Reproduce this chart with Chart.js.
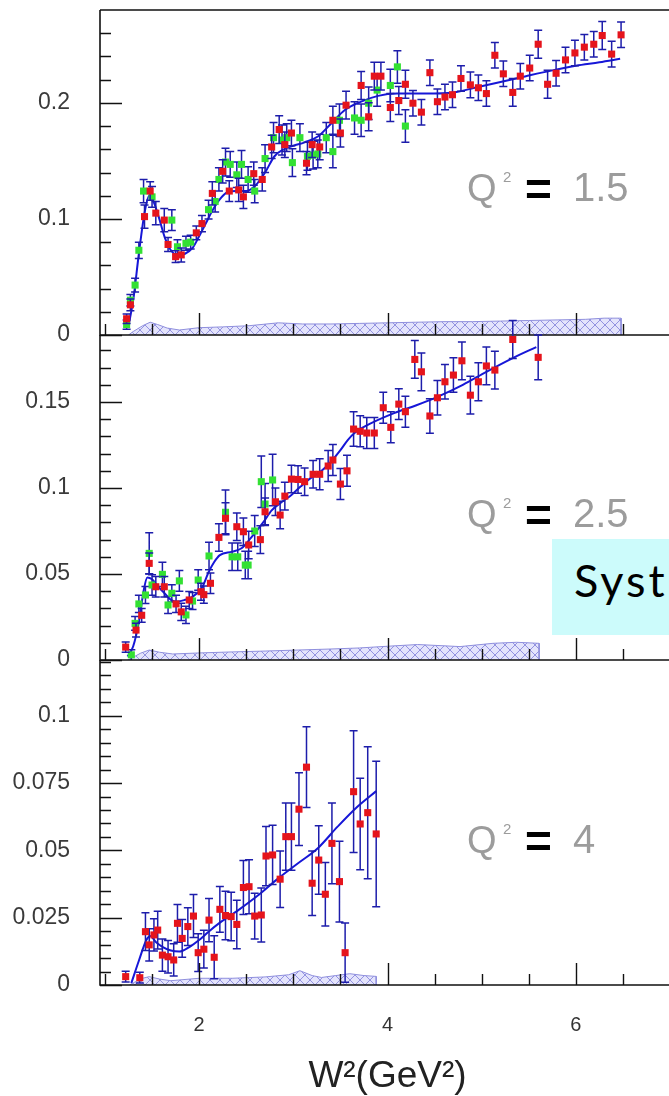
<!DOCTYPE html>
<html><head><meta charset="utf-8">
<script src="https://cdn.jsdelivr.net/npm/chart.js@4.4.1/dist/chart.umd.min.js"></script>
<style>
html,body{margin:0;padding:0;width:669px;height:1096px;overflow:hidden;background:#fff;}
canvas{position:absolute;left:0;top:0;}
#syst{position:absolute;left:552px;top:539px;width:140px;height:96px;background:#ccfbfb;font-family:Lato,"Open Sans",sans-serif;font-size:45px;letter-spacing:3px;line-height:82px;padding-left:22px;box-sizing:border-box;color:#000;z-index:5;white-space:nowrap;}
</style></head><body>
<canvas id="c1" width="680" height="1096"></canvas>
<canvas id="c2" width="680" height="1096"></canvas>
<canvas id="c3" width="680" height="1096"></canvas>
<div id="syst">Syst</div>
<script>
// ---------- axis / tick values ----------
const X_MIN = 0.9474, X_MAX = 7.0526;
const xLabelTicks = [2, 4, 6];
const xMinorTicks = [1, 1.5, 2.5, 3, 3.5, 4.5, 5, 5.5, 6.5];
const y1Ticks = [0, 0.1, 0.2];
const y2Ticks = [0, 0.05, 0.1, 0.15];
const y3Ticks = [0, 0.025, 0.05, 0.075, 0.1];
const q2Labels = ['1.5', '2.5', '4'];

// ---------- panel 1 (Q2 = 1.5) ----------
const p1RedX = [1.23,1.27,1.42,1.48,1.54,1.63,1.67,1.75,1.81,1.97,2.03,2.14,2.25,2.32,2.42,2.47,2.58,2.67,2.77,2.85,2.91,2.98,3.14,3.20,3.28,3.42,3.50,3.56,3.72,3.80,3.86,3.93,4.03,4.12,4.19,4.27,4.36,4.45,4.53,4.61,4.69,4.78,4.88,4.965,5.05,5.14,5.23,5.33,5.41,5.51,5.60,5.70,5.79,5.89,5.99,6.09,6.19,6.28,6.38,6.48];
const p1RedY = [0.014,0.026,0.102,0.124,0.105,0.099,0.078,0.0675,0.069,0.088,0.096,0.122,0.141,0.124,0.125,0.119,0.139,0.134,0.162,0.177,0.164,0.174,0.148,0.164,0.162,0.185,0.174,0.198,0.215,0.188,0.223,0.223,0.196,0.202,0.216,0.1997,0.192,0.226,0.201,0.205,0.207,0.221,0.2155,0.213,0.208,0.241,0.225,0.209,0.223,0.230,0.2505,0.216,0.2255,0.237,0.243,0.248,0.2505,0.258,0.242,0.2586];
const p1RedErr = [0.004,0.005,0.01,0.008,0.01,0.01,0.006,0.005,0.006,0.006,0.007,0.01,0.01,0.009,0.01,0.01,0.01,0.01,0.01,0.012,0.011,0.011,0.01,0.011,0.011,0.012,0.012,0.012,0.012,0.012,0.012,0.012,0.012,0.012,0.012,0.011,0.011,0.011,0.011,0.011,0.011,0.011,0.011,0.011,0.011,0.011,0.011,0.012,0.011,0.011,0.012,0.012,0.011,0.011,0.011,0.011,0.011,0.012,0.011,0.011];
const p1GreenX = [1.23,1.27,1.32,1.36,1.41,1.50,1.71,1.77,1.86,1.91,2.10,2.17,2.21,2.28,2.33,2.40,2.45,2.52,2.59,2.70,2.79,2.88,2.93,2.99,3.07,3.15,3.21,3.26,3.35,3.42,3.49,3.65,3.72,3.80,3.89,4.03,4.105,4.19];
const p1GreenY = [0.009,0.030,0.043,0.073,0.124,0.119,0.099,0.076,0.079,0.080,0.108,0.115,0.134,0.149,0.147,0.138,0.147,0.134,0.124,0.152,0.170,0.168,0.170,0.1485,0.170,0.154,0.155,0.156,0.170,0.158,0.185,0.187,0.185,0.1997,0.211,0.215,0.231,0.180];
const p1GreenErr = [0.004,0.005,0.006,0.007,0.01,0.009,0.009,0.006,0.006,0.006,0.008,0.009,0.01,0.012,0.011,0.011,0.012,0.011,0.01,0.012,0.013,0.013,0.012,0.012,0.012,0.012,0.012,0.012,0.013,0.014,0.014,0.014,0.014,0.014,0.014,0.014,0.014,0.014];
const p1FitX = [1.25,1.3,1.36,1.42,1.47,1.52,1.57,1.64,1.7,1.77,1.85,1.93,2.0,2.07,2.14,2.21,2.3,2.4,2.5,2.6,2.7,2.8,2.9,3.0,3.12,3.26,3.4,3.55,3.72,3.9,4.1,4.4,4.7,4.95,5.2,5.47,5.75,6.0,6.25,6.47];
const p1FitY = [0.008,0.03,0.07,0.105,0.12,0.114,0.102,0.083,0.073,0.069,0.070,0.075,0.085,0.096,0.107,0.116,0.123,0.124,0.124,0.129,0.14,0.154,0.16,0.163,0.166,0.171,0.182,0.194,0.201,0.206,0.208,0.208,0.209,0.2135,0.218,0.223,0.228,0.232,0.235,0.238];
const p1BandX = [1.25,1.3,1.4,1.48,1.56,1.66,1.79,2.0,2.25,2.53,2.84,3.1,3.4,3.7,4.0,4.3,4.6,4.9,5.2,5.5,5.8,6.1,6.3,6.48,6.48];
const p1BandY = [0,0.003,0.008,0.011,0.009,0.006,0.0043,0.0063,0.007,0.008,0.0105,0.0095,0.0095,0.0100,0.0105,0.011,0.0115,0.0115,0.012,0.0125,0.013,0.0135,0.0145,0.0145,0];

// ---------- panel 2 (Q2 = 2.5) ----------
const p2RedX = [1.22,1.33,1.39,1.47,1.54,1.63,1.755,1.81,1.895,2.02,2.05,2.12,2.21,2.28,2.40,2.47,2.526,2.65,2.70,2.81,2.86,2.91,2.98,3.05,3.12,3.21,3.28,3.37,3.42,3.50,3.57,3.64,3.71,3.78,3.86,3.955,4.035,4.12,4.19,4.29,4.36,4.45,4.53,4.61,4.70,4.79,4.88,4.965,5.05,5.14,5.33,5.60];
const p2RedY = [0.0075,0.0174,0.026,0.0562,0.0426,0.0426,0.0326,0.028,0.0349,0.0397,0.038,0.0446,0.0713,0.0824,0.0775,0.0746,0.0669,0.070,0.0862,0.092,0.0843,0.0953,0.1052,0.105,0.1037,0.108,0.108,0.1128,0.1163,0.1023,0.110,0.1343,0.133,0.132,0.132,0.1467,0.1353,0.1488,0.1444,0.1748,0.1676,0.1419,0.1525,0.1618,0.1657,0.174,0.154,0.1618,0.171,0.1686,0.1864,0.176];
const p2RedErr = [0.003,0.004,0.004,0.006,0.006,0.006,0.005,0.005,0.005,0.005,0.005,0.006,0.008,0.009,0.008,0.008,0.008,0.008,0.008,0.008,0.008,0.008,0.008,0.008,0.008,0.008,0.009,0.009,0.009,0.009,0.009,0.010,0.009,0.009,0.009,0.009,0.009,0.009,0.009,0.011,0.011,0.010,0.010,0.010,0.010,0.011,0.011,0.011,0.011,0.011,0.011,0.013];
const p2GreenX = [1.28,1.32,1.36,1.43,1.47,1.50,1.61,1.67,1.71,1.79,1.86,1.93,1.99,2.105,2.28,2.35,2.41,2.49,2.52,2.59,2.66,2.70,2.78];
const p2GreenY = [0.003,0.0213,0.0326,0.0378,0.062,0.0436,0.0498,0.032,0.0388,0.046,0.0262,0.0343,0.0465,0.0605,0.0859,0.060,0.060,0.0552,0.0552,0.075,0.1037,0.0907,0.1047];
const p2GreenErr = [0.003,0.004,0.005,0.005,0.012,0.006,0.007,0.005,0.005,0.006,0.005,0.005,0.006,0.008,0.013,0.008,0.008,0.008,0.008,0.009,0.015,0.012,0.015];
const p2FitX = [1.24,1.3,1.36,1.41,1.45,1.5,1.56,1.63,1.7,1.77,1.85,1.93,2.03,2.1,2.16,2.22,2.35,2.45,2.55,2.68,2.77,2.88,2.98,3.08,3.18,3.3,3.4,3.5,3.58,3.65,3.8,4.07,4.3,4.53,4.8,5.05,5.33,5.58];
const p2FitY = [0.002,0.008,0.022,0.04,0.048,0.047,0.043,0.039,0.035,0.034,0.035,0.0368,0.042,0.051,0.057,0.061,0.063,0.065,0.071,0.08,0.087,0.092,0.096,0.101,0.1056,0.11,0.1153,0.122,0.128,0.132,0.137,0.1436,0.148,0.153,0.16,0.1676,0.1756,0.182];
const p2BandX = [1.24,1.28,1.38,1.47,1.58,1.72,2.0,2.35,2.7,3.05,3.4,3.7,4.0,4.32,4.77,5.12,5.37,5.61,5.61];
const p2BandY = [0,0.001,0.004,0.0058,0.0045,0.0035,0.0041,0.0047,0.0052,0.0058,0.0064,0.007,0.008,0.009,0.0078,0.0097,0.0103,0.0097,0];

// ---------- panel 3 (Q2 = 4) ----------
const p3RedX = [1.22,1.37,1.43,1.47,1.52,1.56,1.61,1.67,1.73,1.77,1.82,1.88,1.94,1.99,2.05,2.105,2.16,2.22,2.28,2.34,2.40,2.47,2.53,2.59,2.66,2.71,2.78,2.86,2.92,2.98,3.06,3.14,3.20,3.27,3.34,3.41,3.49,3.55,3.64,3.71,3.79,3.88];
const p3RedY = [0.0031,0.0027,0.0198,0.0149,0.0186,0.0204,0.0111,0.0105,0.0093,0.0229,0.0173,0.0217,0.0256,0.012,0.0133,0.0241,0.0103,0.0281,0.0258,0.0254,0.0225,0.0362,0.0365,0.0256,0.026,0.0479,0.0483,0.0393,0.0551,0.0551,0.0653,0.0809,0.0378,0.0464,0.0337,0.0526,0.0384,0.012,0.0718,0.0598,0.064,0.0561];
const p3RedErr = [0.002,0.002,0.007,0.006,0.006,0.007,0.006,0.006,0.006,0.007,0.007,0.007,0.008,0.007,0.007,0.008,0.008,0.0085,0.009,0.009,0.009,0.01,0.01,0.0085,0.01,0.011,0.011,0.0105,0.0125,0.0125,0.0135,0.015,0.012,0.0127,0.0118,0.015,0.015,0.011,0.0226,0.017,0.0245,0.027];
const p3FitX = [1.28,1.36,1.44,1.48,1.54,1.61,1.7,1.79,1.9,2.0,2.1,2.21,2.42,2.63,2.84,3.05,3.26,3.47,3.68,3.88];
const p3FitY = [0.0007,0.009,0.0167,0.0182,0.016,0.0142,0.0128,0.0124,0.0142,0.0167,0.0198,0.0229,0.0279,0.0334,0.0396,0.0452,0.0508,0.0588,0.0662,0.072];
const p3BandX = [1.26,1.3,1.4,1.47,1.58,1.7,2.0,2.35,2.7,2.95,3.07,3.2,3.3,3.45,3.6,3.75,3.88,3.88];
const p3BandY = [0,0.0008,0.0025,0.0031,0.0022,0.0016,0.0025,0.0025,0.003,0.0038,0.0053,0.0035,0.0028,0.0035,0.0042,0.0035,0.0032,0];

// ---------- helpers ----------
const zip = (xs, ys) => xs.map((x, i) => ({x: x, y: ys[i]}));
Chart.defaults.font.family = '"Liberation Sans", Arial, Helvetica, sans-serif';

function hatchPattern() {
  const c = document.createElement('canvas'); c.width = 10; c.height = 10;
  const g = c.getContext('2d');
  g.fillStyle = 'rgba(205,205,250,0.55)'; g.fillRect(0, 0, 10, 10);
  g.strokeStyle = 'rgba(120,120,215,0.75)'; g.lineWidth = 1;
  g.beginPath(); g.moveTo(0, 0); g.lineTo(10, 10); g.moveTo(10, 0); g.lineTo(0, 10); g.stroke();
  return g.createPattern(c, 'repeat');
}

const errPlugin = {
  id: 'errbars',
  beforeDatasetDraw(chart, args) {
    const ds = chart.data.datasets[args.index];
    if (!ds.errs) return;
    const {ctx, scales: {x, y}} = chart;
    ctx.save();
    ctx.strokeStyle = '#1d1dab'; ctx.lineWidth = 1.5;
    ctx.beginPath();
    ds.data.forEach((p, i) => {
      const e = ds.errs[i];
      const px = x.getPixelForValue(p.x);
      const loV = Math.max(p.y - e, y.min);
      const yLo = y.getPixelForValue(loV), yHi = y.getPixelForValue(p.y + e);
      ctx.moveTo(px, yLo); ctx.lineTo(px, yHi);
      ctx.moveTo(px - 4, yHi); ctx.lineTo(px + 4, yHi);
      if (p.y - e > y.min) { ctx.moveTo(px - 4, yLo); ctx.lineTo(px + 4, yLo); }
    });
    ctx.stroke();
    ctx.restore();
  }
};

const framePlugin = {
  id: 'frame',
  afterDatasetsDraw(chart, args, o) {
    const {ctx, chartArea: a, scales: {x, y}} = chart;
    ctx.save();
    ctx.strokeStyle = '#111'; ctx.lineWidth = 1.6;
    ctx.beginPath();
    ctx.moveTo(a.left, a.top); ctx.lineTo(a.left, a.bottom); ctx.lineTo(a.right, a.bottom);
    if (o.topBorder) { ctx.moveTo(a.left, a.top); ctx.lineTo(a.right, a.top); }
    ctx.stroke();
    ctx.lineWidth = 1.4;
    ctx.beginPath();
    o.yMajor.forEach(v => { const py = Math.round(y.getPixelForValue(v)) + 0.5; ctx.moveTo(a.left, py); ctx.lineTo(a.left + 22, py); });
    for (let k = 1; k * o.yMinorStep < y.max - 1e-9; k++) {
      const v = k * o.yMinorStep;
      if (o.yMajor.some(m => Math.abs(m - v) < 1e-9)) continue;
      const py = Math.round(y.getPixelForValue(v)) + 0.5; ctx.moveTo(a.left, py); ctx.lineTo(a.left + 11, py);
    }
    xLabelTicks.forEach(v => { const px = Math.round(x.getPixelForValue(v)) + 0.5; ctx.moveTo(px, a.bottom); ctx.lineTo(px, a.bottom - 22); });
    xMinorTicks.forEach(v => { const px = Math.round(x.getPixelForValue(v)) + 0.5; ctx.moveTo(px, a.bottom); ctx.lineTo(px, a.bottom - 11); });
    ctx.stroke();
    ctx.restore();
  }
};

const qPlugin = {
  id: 'qlabel',
  afterDraw(chart, args, o) {
    const ctx = chart.ctx;
    ctx.save();
    ctx.textAlign = 'left'; ctx.textBaseline = 'alphabetic';
    ctx.fillStyle = '#9c9c9c';
    ctx.font = '38px "Liberation Sans", Arial, sans-serif';
    ctx.fillText('Q', o.x, o.y);
    ctx.font = '15px "Liberation Sans", Arial, sans-serif';
    ctx.fillText('2', o.x + 36, o.y - 19);
    ctx.fillStyle = '#000';
    ctx.font = 'bold 46px "Liberation Sans", Arial, sans-serif';
    ctx.fillText('=', o.x + 58, o.y + 4);
    ctx.fillStyle = '#9c9c9c';
    ctx.font = '40px "Liberation Sans", Arial, sans-serif';
    ctx.fillText(o.text, o.x + 106, o.y);
    ctx.restore();
  }
};

function makePanel(id, p) {
  const datasets = [];
  datasets.push({data: zip(p.redX, p.redY), errs: p.redErr, pointStyle: 'rect', pointRadius: 5, pointBackgroundColor: '#e5141c', pointBorderWidth: 0, showLine: false, order: 0});
  if (p.greenX) datasets.push({data: zip(p.greenX, p.greenY), errs: p.greenErr, pointStyle: 'rect', pointRadius: 5, pointBackgroundColor: '#33e033', pointBorderWidth: 0, showLine: false, order: 1});
  datasets.push({data: zip(p.fitX, p.fitY), showLine: true, borderColor: '#1616d8', borderWidth: 2, pointRadius: 0, cubicInterpolationMode: 'monotone', fill: false, order: 3});
  datasets.push({data: zip(p.bandX, p.bandY), showLine: true, fill: 'origin', backgroundColor: hatchPattern(), borderColor: '#8f8fdd', borderWidth: 1, pointRadius: 0, tension: 0, order: 4});

  const xScale = {
    type: 'linear', min: X_MIN, max: X_MAX, display: !!p.showX,
    grid: {display: false, drawTicks: false}, border: {display: false},
    ticks: {padding: 28, font: {size: 20}, color: '#333', autoSkip: false, maxRotation: 0, callback: v => String(v)},
    title: {display: !!p.showX, text: 'W²(GeV²)', font: {size: 37}, color: '#222', padding: {top: 0, bottom: -3}},
    afterBuildTicks: s => { s.ticks = xLabelTicks.map(v => ({value: v})); },
    afterFit: s => { s.height = p.showX ? 111 : 0; s.paddingLeft = 0; s.paddingRight = 0; }
  };
  const yScale = {
    type: 'linear', min: 0, max: p.yMax,
    grid: {display: false, drawTicks: false}, border: {display: false},
    ticks: {padding: 30, font: {size: 23}, color: '#3a3a3a', callback: v => String(v)},
    afterBuildTicks: s => { s.ticks = p.yTicks.map(v => ({value: v})); },
    afterFit: s => { s.width = 100; s.paddingTop = 0; s.paddingBottom = 0; }
  };
  return new Chart(document.getElementById(id), {
    type: 'scatter',
    data: {datasets: datasets},
    options: {
      responsive: false, animation: false, devicePixelRatio: 1,
      layout: {padding: {top: p.padTop, bottom: p.padBottom, left: 0, right: 0}},
      plugins: {
        legend: {display: false}, tooltip: {enabled: false},
        frame: {topBorder: !!p.topBorder, yMajor: p.yTicks, yMinorStep: p.yMinorStep},
        qlabel: {x: 467, y: p.qY, text: p.qText}
      },
      scales: {x: xScale, y: yScale}
    },
    plugins: [errPlugin, framePlugin, qPlugin]
  });
}

makePanel('c1', {redX: p1RedX, redY: p1RedY, redErr: p1RedErr, greenX: p1GreenX, greenY: p1GreenY, greenErr: p1GreenErr,
  fitX: p1FitX, fitY: p1FitY, bandX: p1BandX, bandY: p1BandY, yMax: 0.28, yTicks: y1Ticks, yMinorStep: 0.02,
  padTop: 10, padBottom: 761, topBorder: true, qY: 201, qText: q2Labels[0]});
makePanel('c2', {redX: p2RedX, redY: p2RedY, redErr: p2RedErr, greenX: p2GreenX, greenY: p2GreenY, greenErr: p2GreenErr,
  fitX: p2FitX, fitY: p2FitY, bandX: p2BandX, bandY: p2BandY, yMax: 0.189, yTicks: y2Ticks, yMinorStep: 0.01,
  padTop: 335, padBottom: 436, qY: 527, qText: q2Labels[1]});
makePanel('c3', {redX: p3RedX, redY: p3RedY, redErr: p3RedErr,
  fitX: p3FitX, fitY: p3FitY, bandX: p3BandX, bandY: p3BandY, yMax: 0.1207, yTicks: y3Ticks, yMinorStep: 0.005,
  padTop: 660, padBottom: 0, showX: true, qY: 853, qText: q2Labels[2]});
</script>
</body></html>
